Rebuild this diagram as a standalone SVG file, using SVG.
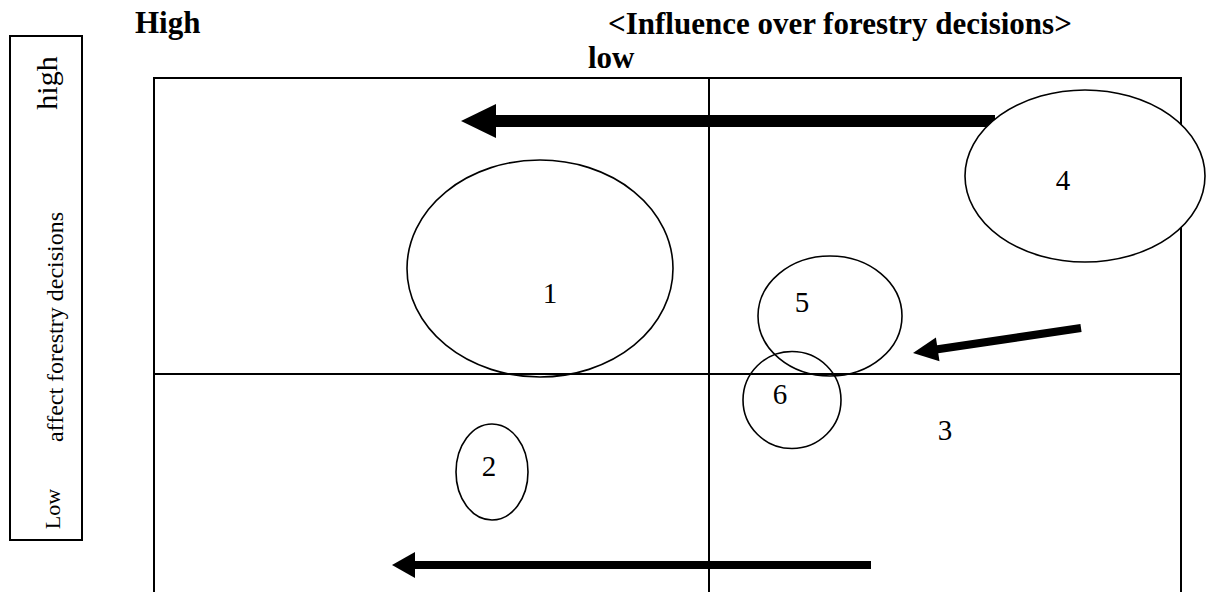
<svg xmlns="http://www.w3.org/2000/svg" width="1206" height="592" viewBox="0 0 1206 592">
<style>
.bold{font-family:"Liberation Serif","Times New Roman",serif;font-weight:bold;font-size:31px;fill:#000}
.reg{font-family:"Liberation Serif","Times New Roman",serif;fill:#000}
.num{font-family:"Liberation Serif","Times New Roman",serif;font-size:29px;fill:#000;text-anchor:middle}
.frame{stroke:#000;stroke-width:2;fill:none}
.div{stroke:#000;stroke-width:2;fill:none}
.ell{stroke:#000;stroke-width:1.6;fill:none}
.ellw{stroke:#000;stroke-width:1.6;fill:#fff}
.shaft{stroke:#000;fill:none}
.head{fill:#000;stroke:none}
</style>
<rect width="1206" height="592" fill="#fff"/>
<g id="titles">
<text class="bold" x="135" y="33">High</text>
<text class="bold" x="608" y="34" font-size="32">&lt;Influence over forestry decisions&gt;</text>
<text class="bold" x="588" y="68">low</text>
</g>
<g id="y-axis">
<rect x="10" y="36" width="72" height="504" class="frame"/>
<text class="reg" font-size="30" text-anchor="middle" x="57" y="83" transform="rotate(-90 57 83)">high</text>
<text class="reg" font-size="24" text-anchor="middle" x="63" y="327" transform="rotate(-90 63 327)">affect forestry decisions</text>
<text class="reg" font-size="22" text-anchor="middle" x="60" y="509" transform="rotate(-90 60 509)">Low</text>
</g>
<g id="grid">
<path class="frame" d="M154,594 V78 H1181 V594"/>
<line class="div" x1="709" y1="78" x2="709" y2="594"/>
<line class="div" x1="154" y1="374" x2="1181" y2="374"/>
</g>
<g id="connectors">
<line class="shaft" stroke-width="12" x1="494" y1="121" x2="995" y2="121"/>
<polygon class="head" points="461,121 496,104 496,138"/>
<line class="shaft" stroke-width="8" x1="1081" y1="328" x2="936" y2="349.5"/>
<polygon class="head" points="913,353 939.5,361.2 935.9,337.4"/>
<line class="shaft" stroke-width="8" x1="413" y1="565" x2="871" y2="565"/>
<polygon class="head" points="392,565 415,552 415,578"/>
</g>
<g id="node1">
<ellipse class="ell" cx="540" cy="268.5" rx="133" ry="108.5"/>
<text class="num" x="550" y="303">1</text>
</g>
<g id="node2">
<ellipse class="ell" cx="492" cy="472" rx="36" ry="48"/>
<text class="num" x="489" y="476">2</text>
</g>
<g id="node3">
<text class="num" x="945" y="440">3</text>
</g>
<g id="node4">
<ellipse class="ellw" cx="1085" cy="176" rx="120" ry="86"/>
<text class="num" x="1063" y="190">4</text>
</g>
<g id="node5">
<ellipse class="ell" cx="830" cy="316" rx="72" ry="60"/>
<text class="num" x="802" y="312">5</text>
</g>
<g id="node6">
<ellipse class="ell" cx="792" cy="400" rx="49" ry="48.5"/>
<text class="num" x="780" y="404">6</text>
</g>
</svg>
